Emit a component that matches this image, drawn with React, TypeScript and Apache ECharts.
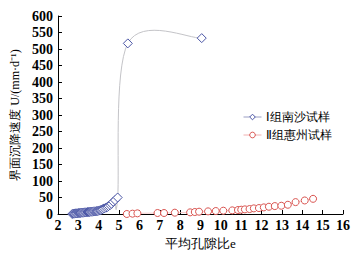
import React, { useEffect, useRef } from "react";
import * as echarts from "echarts";

const seriesNames = ["Ⅰ组南沙试样", "Ⅱ组惠州试样"];

const nanshaE = [2.7, 2.75, 2.8, 2.85, 2.9, 2.95, 3.0, 3.05, 3.1, 3.15, 3.2, 3.25, 3.3, 3.35, 3.4, 3.45, 3.5, 3.55, 3.6, 3.65, 3.7, 3.75, 3.8, 3.85, 3.9, 3.95, 4.0, 4.05, 4.1, 4.15, 4.2, 4.27, 4.35, 4.42, 4.48, 4.56, 4.63, 4.71, 4.8, 4.93, 5.43, 9.06];
const nanshaU = [0, 1, 1, 2, 2, 2, 3, 3, 3, 4, 4, 4, 5, 5, 5, 6, 6, 6, 7, 7, 7, 8, 8, 8, 9, 9, 10, 11, 12, 13, 15, 17, 19, 21, 24, 27, 31, 37, 42, 50, 517, 533];

const huizhouE = [5.38, 5.66, 5.9, 6.89, 7.21, 7.74, 8.49, 8.72, 8.93, 9.37, 9.75, 10.12, 10.56, 10.84, 11.0, 11.18, 11.41, 11.62, 11.87, 12.11, 12.36, 12.65, 12.97, 13.29, 13.67, 14.12, 14.53];
const huizhouU = [0, 1, 2, 3, 3, 4, 5, 6, 7, 8, 9, 10, 11, 12, 13, 14, 15, 17, 18, 20, 22, 24, 25, 28, 36, 41, 46];

const serif = "serif";
const cjk = "serif";

const curveColor = "#c4c4c8";

export default function App() {
  const ref = useRef<HTMLDivElement>(null);
  useEffect(() => {
    if (!ref.current) return;
    const chart = echarts.init(ref.current, undefined, { renderer: "svg" });
    const nanshaData = nanshaE.map((e, i) => [e, nanshaU[i]]);
    chart.setOption({
      animation: false,
      backgroundColor: "#fff",
      grid: { left: 58, right: 16, top: 16, bottom: 42 },
      legend: {
        orient: "vertical",
        left: 238,
        top: 106,
        itemWidth: 18,
        itemHeight: 7,
        itemGap: 6,
        textStyle: { fontFamily: cjk, fontSize: 12, color: "#000", padding: [0, 0, 0, -1] },
        data: [
          {
            name: seriesNames[0],
            lineStyle: { color: "#9a9ec4", width: 1, opacity: 1 },
            itemStyle: { color: "#ffffff", borderColor: "#4b56a6", borderWidth: 1 },
          },
          {
            name: seriesNames[1],
            lineStyle: { color: "#f0b0b0", width: 1, opacity: 1 },
            itemStyle: { color: "#ffffff", borderColor: "#d9534f", borderWidth: 1 },
          },
        ],
      },
      xAxis: {
        type: "value",
        min: 2,
        max: 16,
        interval: 1,
        name: "平均孔隙比e",
        nameLocation: "middle",
        nameGap: 23,
        nameTextStyle: { fontFamily: cjk, fontSize: 13, color: "#000" },
        axisLine: { lineStyle: { color: "#000", width: 1 } },
        axisTick: { inside: true, length: 4, lineStyle: { color: "#000" } },
        axisLabel: { fontFamily: serif, fontSize: 14, color: "#000", margin: 4, fontWeight: "bold" },
        splitLine: { show: false },
      },
      yAxis: {
        type: "value",
        min: 0,
        max: 600,
        interval: 50,
        name: "界面沉降速度 U/(mm·d⁻¹)",
        nameLocation: "middle",
        nameGap: 36,
        nameTextStyle: { fontFamily: cjk, fontSize: 12, color: "#000" },
        axisLine: { show: true, lineStyle: { color: "#000", width: 1 } },
        axisTick: { show: true, inside: true, length: 4, lineStyle: { color: "#000" } },
        axisLabel: { fontFamily: serif, fontSize: 14, color: "#000", margin: 5, fontWeight: "bold" },
        splitLine: { show: false },
      },
      series: [
        {
          type: "custom",
          silent: true,
          data: nanshaData,
          z: 1,
          renderItem: (params: any, api: any) => {
            if (params.dataIndex !== 0) return null;
            const pts = nanshaData.map((p) => api.coord(p));
            const n = pts.length;
            let d = `M${pts[0][0]},${pts[0][1]}`;
            for (let i = 0; i < n - 1; i++) {
              const p0 = pts[Math.max(i - 1, 0)];
              const p1 = pts[i];
              const p2 = pts[i + 1];
              const p3 = pts[Math.min(i + 2, n - 1)];
              const c1x = p1[0] + (p2[0] - p0[0]) / 6;
              const c1y = p1[1] + (p2[1] - p0[1]) / 6;
              const c2x = p2[0] - (p3[0] - p1[0]) / 6;
              const c2y = p2[1] - (p3[1] - p1[1]) / 6;
              d += ` C${c1x},${c1y} ${c2x},${c2y} ${p2[0]},${p2[1]}`;
            }
            return {
              type: "path",
              shape: { pathData: d },
              style: { stroke: curveColor, lineWidth: 1, fill: "none" },
            };
          },
        },
        {
          name: seriesNames[0],
          type: "line",
          data: nanshaData,
          symbol: "diamond",
          symbolSize: 9,
          lineStyle: { color: curveColor, width: 0, opacity: 0 },
          itemStyle: { color: "#ffffff", borderColor: "#4b56a6", borderWidth: 1 },
          z: 3,
        },
        {
          name: seriesNames[1],
          type: "line",
          data: huizhouE.map((e, i) => [e, huizhouU[i]]),
          symbol: "circle",
          symbolSize: 7,
          lineStyle: { color: "#f2c0c0", width: 0.8 },
          itemStyle: { color: "#ffffff", borderColor: "#d9534f", borderWidth: 1 },
          z: 2,
        },
      ],
    });
    return () => chart.dispose();
  }, []);
  return <div ref={ref} style={{ width: 359, height: 256, position: "absolute", left: 0, top: 0 }} />;
}
